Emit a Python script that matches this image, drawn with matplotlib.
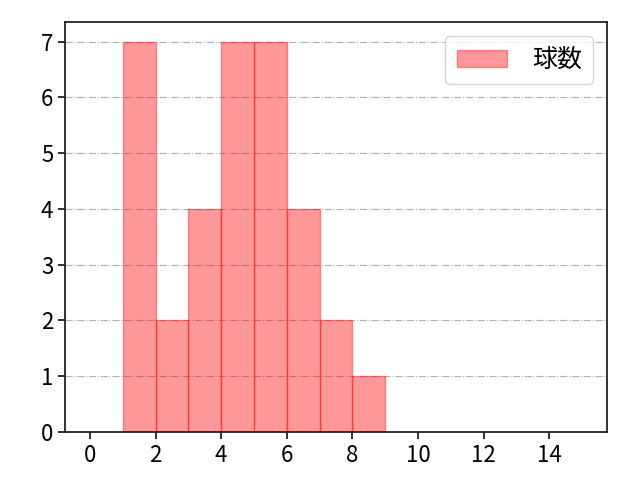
import numpy as np
import matplotlib
matplotlib.use('Agg')
from matplotlib import pyplot as plt

plt.rcParams['font.family'] = ['Noto Sans CJK JP', 'DejaVu Sans']

bin_edges = [1, 2, 3, 4, 5, 6, 7, 8, 9]
counts = [7, 2, 4, 7, 7, 4, 2, 1]
label = '球数'

fig = plt.figure(figsize=(6.4, 4.8), dpi=100)
ax = fig.add_subplot(111)

ax.hist(bin_edges[:-1], bins=bin_edges, weights=counts,
        color='red', alpha=0.4, edgecolor='red', label=label)

ax.set_xlim(-0.75, 15.75)
ax.set_ylim(0, 7.35)
ax.set_xticks(np.arange(0, 15, 2))
ax.set_yticks(np.arange(0, 8, 1))
ax.grid(axis='y', linestyle='-.', color='#b0b0b0', linewidth=0.8)
ax.set_axisbelow(True)
for s in ax.spines.values():
    s.set_linewidth(1.3)
    s.set_color('#222222')
ax.tick_params(labelsize=16, width=1.3, length=5, color='#222222')
ax.legend(loc='upper right', fontsize=18, handlelength=2.0,
          handletextpad=1.0, borderpad=0.45, borderaxespad=0.55)

fig.subplots_adjust(left=0.102, right=0.948, top=0.954, bottom=0.10)
fig.savefig('out.png', dpi=100)
